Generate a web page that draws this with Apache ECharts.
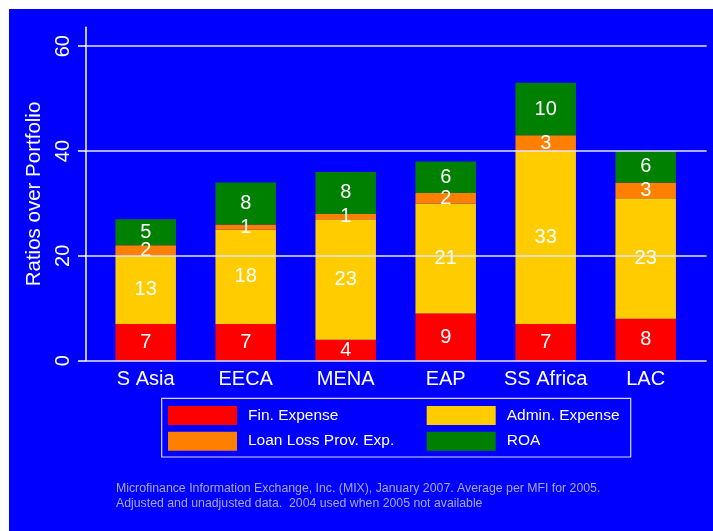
<!DOCTYPE html>
<html>
<head>
<meta charset="utf-8">
<script src="https://cdn.jsdelivr.net/npm/echarts@6/dist/echarts.min.js"></script>
<style>
  html, body { margin: 0; padding: 0; background: #ffffff; }
  #chart { width: 713px; height: 531px; }
</style>
</head>
<body>
<div id="chart"></div>
<script>
// Regions and the average cost / return components per MFI (% of portfolio)
const categories = ['S Asia', 'EECA', 'MENA', 'EAP', 'SS Africa', 'LAC'];
const finExpense = [7, 7, 4, 9, 7, 8];
const adminExpense = [13, 18, 23, 21, 33, 23];
const loanLossProv = [2, 1, 1, 2, 3, 3];
const roa = [5, 8, 8, 6, 10, 6];
const yTicks = [0, 20, 40, 60];
const yMax = 63.6;

const seriesDefs = [
  { name: 'Fin. Expense', data: finExpense, color: '#FF0000' },
  { name: 'Admin. Expense', data: adminExpense, color: '#FFCC00' },
  { name: 'Loan Loss Prov. Exp.', data: loanLossProv, color: '#FF8000' },
  { name: 'ROA', data: roa, color: '#008000' }
];

const font = 'Liberation Sans, Arial, Helvetica, sans-serif';
const chart = echarts.init(document.getElementById('chart'), null, { renderer: 'canvas' });

const barSeries = seriesDefs.map(s => ({
  name: s.name,
  type: 'bar',
  stack: 'total',
  xAxisIndex: 1,
  yAxisIndex: 1,
  barWidth: 60.5,
  z: 3,
  data: s.data,
  itemStyle: { color: s.color },
  label: {
    show: true,
    position: 'inside',
    color: '#ffffff',
    fontSize: 20,
    fontFamily: font
  }
}));

const legendCommon = {
  orient: 'vertical',
  top: 401,
  itemWidth: 69,
  itemHeight: 19,
  itemGap: 6.7,
  icon: 'rect',
  selectedMode: false,
  textStyle: { color: '#ffffff', fontSize: 15.5, fontFamily: font, padding: [0, 0, 0, 6] }
};

chart.setOption({
  animation: false,
  backgroundColor: 'transparent',
  textStyle: { fontFamily: font },
  graphic: [
    {
      type: 'rect', z: -10, silent: true,
      shape: { x: 9, y: 9, width: 713 - 9, height: 531 - 9 },
      style: { fill: '#0000FF' }
    },
    {
      type: 'rect', z: 1, silent: true,
      shape: { x: 161.7, y: 398.3, width: 469, height: 58.7 },
      style: { fill: 'none', stroke: '#D8D8FF', lineWidth: 1.2 }
    },
    {
      type: 'text', z: 5, silent: true,
      left: 116, top: 481,
      style: {
        text: 'Microfinance Information Exchange, Inc. (MIX), January 2007. Average per MFI for 2005.\nAdjusted and unadjusted data.  2004 used when 2005 not available',
        fill: '#A8A8E8',
        font: '12.3px ' + font,
        lineHeight: 15
      }
    }
  ],
  legend: [
    Object.assign({ data: ['Fin. Expense', 'Loan Loss Prov. Exp.'], left: 163 }, legendCommon),
    Object.assign({ data: ['Admin. Expense', 'ROA'], left: 421.7 }, legendCommon)
  ],
  grid: [
    { left: 86, right: 6.3, top: 27.3, bottom: 170.3 },
    { left: 95.7, width: 600, top: 27.3, bottom: 170.3 }
  ],
  xAxis: [
    { type: 'value', gridIndex: 0, min: 0, max: 1, show: false },
    {
      type: 'category', gridIndex: 1, data: categories,
      axisLine: { show: false }, axisTick: { show: false },
      axisLabel: { interval: 0, color: '#ffffff', fontSize: 20, margin: 9, fontFamily: font }
    }
  ],
  yAxis: [
    {
      type: 'value', gridIndex: 0, min: 0, max: yMax,
      name: 'Ratios over Portfolio',
      nameLocation: 'middle',
      nameRotate: 90,
      nameGap: 37,
      nameTextStyle: { color: '#ffffff', fontSize: 20.5, fontFamily: font },
      axisLine: { show: true, lineStyle: { color: '#ffffff', width: 1.5 } },
      axisTick: { show: true, customValues: yTicks, length: 8, lineStyle: { color: '#ffffff', width: 1.5 } },
      axisLabel: {
        customValues: yTicks,
        rotate: 90,
        margin: 13,
        color: '#ffffff',
        fontSize: 20,
        fontFamily: font,
        formatter: v => (yTicks.indexOf(v) >= 0 ? String(v) : '')
      },
      splitLine: { show: false }
    },
    { type: 'value', gridIndex: 1, min: 0, max: yMax, show: false }
  ],
  series: [
    {
      // horizontal reference lines at each y tick
      type: 'line',
      xAxisIndex: 0,
      yAxisIndex: 0,
      data: [],
      z: 1,
      silent: true,
      markLine: {
        silent: true,
        symbol: ['none', 'none'],
        label: { show: false },
        lineStyle: { color: '#E4E4FF', width: 1.5, type: 'solid' },
        data: yTicks.map(v => ({ yAxis: v }))
      }
    }
  ].concat(barSeries)
});
</script>
</body>
</html>
